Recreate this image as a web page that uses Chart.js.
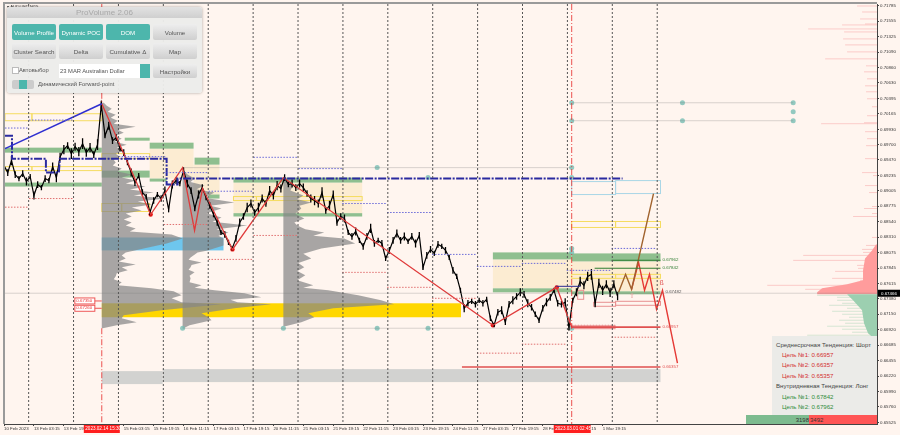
<!DOCTYPE html>
<html>
<head>
<meta charset="utf-8">
<title>AUDUSD ProVolume</title>
<script src="https://cdn.jsdelivr.net/npm/chart.js@4"></script>
<style>
    html, body { margin:0; padding:0; background:#FFF5EF; }
    #wrap { position:relative; width:900px; height:435px; overflow:hidden; font-family:'Liberation Sans', Arial, sans-serif; }
    canvas { position:absolute; left:0; top:0; }
    #pv { position:absolute; left:7px; top:7px; width:195px; height:86px; background:rgba(236,236,234,.96); border-radius:3px; box-shadow:0 0 3px rgba(0,0,0,.35); }
    #pv .title { position:absolute; left:0; top:0; width:100%; height:11px; background:linear-gradient(#e2e2e2,#cfcfcf); color:#a8a8a8; font-size:8px; line-height:12px; text-align:center; border-radius:3px 3px 0 0; }
    #pv .btn { position:absolute; width:44px; height:16px; border-radius:2px; background:linear-gradient(#eeeeee,#cfcfcf); color:#555; font-size:6.2px; line-height:17px; text-align:center; white-space:nowrap; }
    #pv .btn.on { background:#4DB6AC; color:#fff; }
    #pv .lbl { position:absolute; font-size:5.8px; color:#555; white-space:nowrap; }
    #info { position:absolute; left:772px; top:336px; width:105px; height:79px; background:#EBEBE8; font-size:6.1px; }
    #info div { position:absolute; white-space:nowrap; }
    #info .r { left:10px; color:#D32F2F; }
    #info .g { left:10px; color:#2E8B3A; }
    #info .h { left:4px; color:#444; }
    #vol { position:absolute; left:746px; top:415px; width:131px; height:9px; font-size:6px; line-height:10px; }
    #vol .b { position:absolute; left:0; top:0; width:63px; height:9px; background:#7DBB8F; color:#333; text-align:right; }
    #vol .s { position:absolute; left:63px; top:0; width:68px; height:9px; background:#F55; color:#333; padding-left:1px; box-sizing:border-box; }
</style>
</head>
<body>
<div id="wrap">
    <canvas id="chart" width="900" height="435"></canvas>
    <div id="pv">
        <div class="title">ProVolume 2.06</div>
        <div class="btn on" style="left:5px;top:17px">Volume Profile</div>
        <div class="btn on" style="left:52px;top:17px">Dynamic POC</div>
        <div class="btn on" style="left:99px;top:17px">DOM</div>
        <div class="btn" style="left:146px;top:17px">Volume</div>
        <div class="btn" style="left:5px;top:36px">Cluster Search</div>
        <div class="btn" style="left:52px;top:36px">Delta</div>
        <div class="btn" style="left:99px;top:36px">Cumulative Δ</div>
        <div class="btn" style="left:146px;top:36px">Map</div>
        <div style="position:absolute;left:5px;top:60px;width:5px;height:5px;background:#fff;border:1px solid #bbb"></div>
        <div class="lbl" style="left:12px;top:60px">Автовыбор</div>
        <div class="lbl" style="left:52px;top:57px;width:81px;height:14px;background:#fff;line-height:14px;text-indent:1px">23 MAR Australian Dollar</div>
        <div style="position:absolute;left:133px;top:57px;width:10px;height:14px;background:#4DB6AC"></div>
        <div class="btn" style="left:146px;top:57px;height:14px;line-height:15px">Настройки</div>
        <div style="position:absolute;left:5px;top:73px;width:22px;height:9px;background:#ccc;border-radius:2px"></div>
        <div style="position:absolute;left:12px;top:73px;width:8px;height:9px;background:#4DB6AC"></div>
        <div class="lbl" style="left:31px;top:74px">Динамический Forward-point</div>
    </div>
    <div id="info">
        <div class="h" style="top:5px">Среднесрочная Тенденция: Шорт</div>
        <div class="r" style="top:15px">Цель №1: 0.66957</div>
        <div class="r" style="top:25px">Цель №2: 0.66357</div>
        <div class="r" style="top:36px">Цель №3: 0.65357</div>
        <div class="h" style="top:46px">Внутридневная Тенденция: Лонг</div>
        <div class="g" style="top:57px">Цель №1: 0.67842</div>
        <div class="g" style="top:67px">Цель №2: 0.67962</div>
    </div>
    <div id="vol"><div class="b">3198</div><div class="s">3492</div></div>
</div>
<script>
// x values are chart bars (one bar per pixel column), y values are AUDUSD prices

const xTickLabels = ['10 Feb 2023','13 Feb 03:15','13 Feb 19:15','14 Feb 11:15','15 Feb 03:15','15 Feb 19:15','16 Feb 11:15','17 Feb 03:15','17 Feb 19:15','20 Feb 11:15','21 Feb 03:15','21 Feb 19:15','22 Feb 11:15','23 Feb 03:15','23 Feb 19:15','24 Feb 11:15','27 Feb 03:15','27 Feb 19:15','28 Feb 11:15','1 Mar 03:15','1 Mar 19:15'];
const yTickValues = [0.71785,0.71555,0.71325,0.71090,0.70860,0.70630,0.70395,0.70165,0.69930,0.69700,0.69470,0.69235,0.69005,0.68775,0.68540,0.68310,0.68075,0.67845,0.67615,0.67380,0.67150,0.66920,0.66685,0.66455,0.66220,0.65990,0.65760,0.65525];
const lastPrice = 0.67466;

// close every 3.75 bars, and how far the wick of that stretch reaches
const closes = [0.69385,0.6928,0.6946,0.6925,0.6919,0.69265,0.69145,0.6922,0.68935,0.691,0.69055,0.6919,0.6916,0.6937,0.69205,0.6952,0.69625,0.69685,0.69565,0.6967,0.69595,0.69715,0.6958,0.69655,0.6955,0.697,0.703,0.69835,0.69985,0.6976,0.69805,0.6964,0.6958,0.6943,0.6928,0.6913,0.69235,0.6898,0.6892,0.6868,0.6886,0.6895,0.6889,0.6901,0.68725,0.691,0.6916,0.69115,0.6931,0.69115,0.6901,0.6874,0.6895,0.69055,0.68905,0.68785,0.6865,0.6853,0.6838,0.6835,0.6823,0.6814,0.6829,0.6853,0.6862,0.68755,0.68815,0.6868,0.68755,0.6889,0.68815,0.6901,0.68935,0.69085,0.6904,0.69205,0.691,0.69115,0.69055,0.69115,0.69055,0.68965,0.6889,0.6886,0.68815,0.6898,0.6871,0.68785,0.6895,0.6853,0.6862,0.6859,0.6838,0.6832,0.68395,0.6826,0.6817,0.6832,0.6844,0.68215,0.6826,0.68215,0.6799,0.6811,0.6826,0.68365,0.6826,0.6832,0.68245,0.6832,0.68215,0.68335,0.67855,0.68035,0.68125,0.68065,0.682,0.6817,0.6811,0.68005,0.6781,0.6772,0.6751,0.6724,0.67315,0.67345,0.673,0.6736,0.67315,0.67375,0.6709,0.66985,0.6718,0.6721,0.6703,0.673,0.6736,0.6742,0.6748,0.6745,0.67315,0.67255,0.6715,0.6706,0.6724,0.6733,0.67405,0.6751,0.67315,0.673,0.6733,0.66955,0.6736,0.6748,0.67645,0.67585,0.6772,0.6775,0.67315,0.67615,0.6751,0.676,0.6748,0.676,0.6742];
const wickReach = [.0006,.0005,.0007,.0005,.0004,.0005,.0006,.0004,.0006,.0005,.0004,.0005,.0004,.0006,.0007,.0006,.0007,.0005,.0008,.0006,.0007,.0008,.0006,.0007,.0005,.0008,.0006,.0004,.0006,.0005,.0005,.0004,.0005,.0004,.0006,.0005,.0004,.0005,.0004,.0004,.0005,.0004,.0005,.0006,.0004,.0006,.0005,.0004,.0005,.0006,.0005,.0004,.0006,.0005,.0004,.0005,.0004,.0005,.0004,.0005,.0004,.0003,.0005,.0006,.0005,.0007,.0006,.0005,.0007,.0006,.0005,.0007,.0006,.0007,.0006,.0005,.0004,.0006,.0005,.0006,.0006,.0005,.0006,.0007,.0006,.0008,.0005,.0007,.0006,.0005,.0005,.0006,.0004,.0005,.0006,.0004,.0005,.0005,.0007,.0005,.0004,.0005,.0004,.0005,.0005,.0006,.0005,.0006,.0004,.0005,.0006,.0005,.0004,.0005,.0005,.0004,.0005,.0004,.0005,.0004,.0005,.0004,.0004,.0006,.0005,.0004,.0005,.0004,.0005,.0004,.0004,.0003,.0005,.0006,.0004,.0005,.0006,.0005,.0006,.0005,.0006,.0005,.0004,.0004,.0005,.0006,.0005,.0004,.0005,.0005,.0006,.0005,.0004,.0006,.0007,.0006,.0007,.0008,.0006,.0007,.0007,.0006,.0007,.0006,.0006,.0005];
const closeStep = 3.75;

const daySeparators = [24.7,69.7,114.7,159.7,204.7,249.7,294.7,339.7,384.7,429.7,474.7,519.7,564.7,609.7,654.7];
// event markers: bar, price from, price to
const eventLines = [[98,0.71815,0.7176],[98,0.7048,0.70315],[98,0.6694,0.655],[569,0.71815,0.655]];

// zones: bar from, bar to, price top, price bottom
const creamZones = [[146,190,0.6964,0.6919],[190,216,0.694,0.68935],[230,359,0.6913,0.6867],[490,569,0.67975,0.6754],[569,658,0.67945,0.67495]];
const greenZones = [[1,98,0.69655,0.6958],[1,98,0.6913,0.6907],[98,146,0.6931,0.69205],[121,146,0.69805,0.6976],[146,190,0.6973,0.6964],[191,216,0.69505,0.694],[146,163,0.6919,0.69145],[205,216,0.6895,0.6889],[230,359,0.69205,0.6913],[230,359,0.6867,0.6862],[490,569,0.6808,0.67975],[569,658,0.68065,0.67945],[490,569,0.6754,0.6748],[569,658,0.67495,0.6745]];
const goldZones = [[98,458,0.67315,0.67105]];
const blueZones = [[98,220,0.68305,0.6811]];
const grayZones = [[98,159,0.66295,0.661],[159,658,0.66325,0.6613]];
const pinkZones = [[569,613,0.66985,0.66925]];
const yellowBoxes = [[1,28,0.70165,0.7006],[28,98,0.70165,0.7006],[1,28,0.6937,0.6931],[28,98,0.6937,0.6931],[98,146,0.69565,0.6949],[98,118,0.68815,0.68695],[118,146,0.68815,0.68695],[230,253,0.6892,0.6886],[253,359,0.6892,0.6886],[569,613,0.68545,0.68455],[613,658,0.68545,0.68455],[569,613,0.6775,0.6769],[613,658,0.6775,0.6769]];
const skyBoxes = [[569,613,0.69145,0.6895],[613,658,0.6916,0.68965]];
const redBoxes = [[591,613,0.6733,0.6727],[613,658,0.67345,0.67285],[575,581,0.6751,0.67375]];

// session volume profiles
const profile1Start = 98;
const profile1Prices = [0.7033,0.70285,0.7024,0.70195,0.7015,0.70105,0.7006,0.70015,0.6997,0.69925,0.6988,0.69835,0.6979,0.69745,0.697,0.69655,0.6961,0.69565,0.6952,0.69475,0.6943,0.69385,0.6934,0.69295,0.6925,0.69205,0.6916,0.69115,0.6907,0.69025,0.6898,0.68935,0.6889,0.68845,0.688,0.68755,0.6871,0.68665,0.6862,0.68575,0.6853,0.68485,0.6844,0.68395,0.6835,0.6829,0.68215,0.6814,0.6808,0.68035,0.6799,0.67945,0.679,0.67855,0.6781,0.67765,0.6772,0.67675,0.6763,0.67585,0.6754,0.67495,0.67435,0.6739,0.6733,0.673,0.6721,0.67135,0.6709,0.6703,0.66985,0.6694];
const profile1Vols = [2,5,10,6,14,9,16,12,34,16,22,14,20,13,25,15,22,14,18,12,14,11,20,16,30,20,34,24,44,28,52,32,64,36,50,30,40,24,30,22,30,24,34,28,70,81,65,42,24,20,24,17,34,20,26,15,14,12,20,16,50,72,80,70,80,120,60,22,20,35,15,1];
const profile2Start = 179;
const profile2Prices = [0.6931,0.6925,0.6919,0.6914,0.69085,0.6903,0.6898,0.689,0.6883,0.6878,0.6874,0.6867,0.68605,0.6854,0.68485,0.6843,0.6838,0.6833,0.6829,0.68185,0.6811,0.6808,0.68005,0.6797,0.6793,0.6789,0.67855,0.6782,0.6778,0.6773,0.6769,0.6763,0.67585,0.6755,0.6751,0.67465,0.67405,0.6737,0.6733,0.673,0.6724,0.67165,0.67105,0.6706,0.66985,0.6694];
const profile2Vols = [1,5,12,8,22,14,32,22,52,28,39,24,39,30,65,34,46,36,41,41,25,15,8,6,19,9,8,6,12,7,8,7,19,12,32,62,79,48,55,89,52,19,26,29,7,1];
const profile3Start = 280;
const profile3Prices = [0.69205,0.69145,0.69085,0.6901,0.68935,0.6888,0.6883,0.6878,0.6874,0.6866,0.6859,0.6853,0.68485,0.6843,0.6838,0.6833,0.6829,0.68215,0.6814,0.6806,0.6799,0.6792,0.67855,0.678,0.67735,0.6766,0.67585,0.6755,0.6751,0.67435,0.6736,0.673,0.6724,0.67165,0.67105,0.6703,0.6697];
const profile3Vols = [2,6,10,7,20,14,28,16,18,12,21,11,14,22,41,30,61,72,38,20,28,15,21,14,22,14,30,20,45,75,98,111,50,25,31,18,2];

// DOM profile against the price axis
const depthAskPrices = [0.71785,0.71695,0.7159,0.71515,0.715,0.7144,0.71395,0.7129,0.712,0.71095,0.7099,0.70885,0.70795,0.7069,0.70585,0.70495,0.7039,0.7027,0.70135,0.7003,0.70015,0.69895,0.6979,0.69685,0.6949,0.6928,0.69235,0.69085,0.6898,0.6877,0.6874,0.68665,0.6862,0.68305,0.68185,0.68125,0.6808,0.68035,0.6796,0.67885,0.6784,0.67795,0.67765,0.6769,0.6766,0.6763,0.67585,0.67555,0.67525];
const depthAskVols = [20,15,17,12,35,69,33,34,32,30,52,11,13,10,12,11,10,5,10,13,56,12,10,11,12,15,4,12,8,5,13,5,24,5,11,15,14,74,84,20,19,42,12,45,17,20,110,44,72];
const depthAskBodyPrices = [0.682,0.6811,0.6799,0.6781,0.6766,0.676,0.6754,0.6748,0.6745];
const depthAskBodyVols = [1,5,12,14,14,30,55,60,60];
const depthBidPrices = [0.67435,0.67405,0.6736,0.67315,0.67285,0.6724,0.67195,0.6715,0.67105,0.6706,0.67015,0.6697,0.66925,0.6688,0.66835,0.6679,0.6673,0.6667,0.6658];
const depthBidVols = [60,40,40,35,48,30,45,35,28,38,32,50,35,25,70,10,18,10,8];
const depthBidBodyPrices = [0.6745,0.6736,0.6721,0.67015,0.66865,0.6676];
const depthBidBodyVols = [30,24,15,13,9,1];

// trend lines
const impulseUpBars = [1,98];
const impulseUpPrices = [0.6964,0.70315];
const zigzagBars = [98,147,179,191,199,229,280,490,554,569];
const zigzagPrices = [0.70315,0.6865,0.69355,0.6841,0.6904,0.68125,0.69205,0.66985,0.67555,0.66955];
const forecastUpBars = [616,623,629,651];
const forecastUpPrices = [0.6748,0.6775,0.67525,0.68965];
const forecastDownBars = [629,636,642,647,654,660,675];
const forecastDownPrices = [0.67525,0.6793,0.6751,0.6775,0.67225,0.6751,0.66415];
const stepBars = [1,8,8,42,42,55,56,163,163,174,174,620];
const stepPrices = [0.69835,0.69835,0.6949,0.6949,0.6928,0.6928,0.6949,0.6949,0.691,0.691,0.6919,0.6919];

// horizontal levels: bar from, bar to, price
const blueDotted = [[1,25,0.6995],[25,70,0.7007],[115,163,0.6952],[160,205,0.6928],[205,250,0.69],[250,295,0.6951],[295,339,0.6934],[339,384,0.68815],[384,429,0.6868],[429,474,0.6805],[474,519,0.6787],[519,564,0.67915],[564,609,0.6781],[609,654,0.6814]];
const redDotted = [[1,25,0.6876],[25,70,0.6889],[160,205,0.6850],[205,250,0.67975],[250,295,0.68335],[339,384,0.6778],[384,429,0.67555],[429,474,0.6739],[474,519,0.66565],[519,564,0.667],[609,654,0.66805]];
const paleLevels = [[179,569,0.6694],[181,569,0.69355],[569,791,0.7033],[569,791,0.7006],[1,875,lastPrice]];
const targetLongLevels = [[609,658,0.67962],[592,658,0.67842]];
const targetShortLevels = [[569,658,0.66957],[459,658,0.66357]];
const stopDotted = [[569,613,0.66985]];
const coreBars = [553,578];
const corePrices = [0.6757,0.6757];

const dotBars = [147,229,490,554];
const dotPrices = [0.6865,0.68125,0.66985,0.67555];
const markerBars = [179,280,374,425,569,374,425,569,569,569,569,569,569,680,680,791,791,791];
const markerPrices = [0.6694,0.6694,0.6694,0.6694,0.6694,0.69355,0.69205,0.69355,0.69205,0.6814,0.6808,0.7033,0.7006,0.7033,0.7006,0.7033,0.70195,0.7006];

const PRICE_MIN = 0.655, PRICE_MAX = 0.71815;
const BAR_MAX = 875;

function pts(bars, values){ return bars.map((b,i)=>({ x:b, y:values[i] })); }

function levels(list){
    const out = [];
    list.forEach(l=>{ out.push({x:l[0],y:l[2]},{x:l[1],y:l[2]},{x:l[1],y:null}); });
    return out;
}

function verticals(bars){
    const out = [];
    bars.forEach(b=>{ out.push({x:b,y:PRICE_MAX},{x:b,y:PRICE_MIN},{x:b,y:null}); });
    return out;
}

function eventSegments(list){
    const out = [];
    list.forEach(l=>{ out.push({x:l[0],y:l[1]},{x:l[0],y:l[2]},{x:l[0],y:null}); });
    return out;
}

function wicks(){
    const out = [];
    closes.forEach((c,i)=>{
        const b = i*closeStep;
        out.push({x:b,y:c+wickReach[i]},{x:b,y:c-wickReach[i]},{x:b,y:null});
    });
    return out;
}

function lineSet(data, color, width, dash){
    return { type:'line', data, borderColor:color, borderWidth:width, borderDash:dash||[], pointRadius:0, tension:0, spanGaps:false, fill:false };
}

function dotSet(data, color, radius){
    return { type:'line', data, showLine:false, pointRadius:radius, pointBackgroundColor:color, pointBorderWidth:0 };
}

// filled rectangles and volume profiles go under the datasets
const underlay = {
    id:'underlay',
    beforeDatasetsDraw(chart){
        const { ctx, scales:{ x, y } } = chart;
        const X = v => x.getPixelForValue(v);
        const Y = v => y.getPixelForValue(v);
        const W = v => X(v) - X(0);

        function fillZones(list, color){
            ctx.fillStyle = color;
            list.forEach(z=> ctx.fillRect(X(z[0]), Y(z[2]), X(z[1])-X(z[0]), Y(z[3])-Y(z[2])));
        }
        function strokeBoxes(list, color){
            ctx.strokeStyle = color;
            ctx.lineWidth = 1;
            list.forEach(z=> ctx.strokeRect(X(z[0]), Y(z[2]), X(z[1])-X(z[0]), Y(z[3])-Y(z[2])));
        }
        function profile(start, prices, vols, color){
            ctx.fillStyle = color;
            ctx.beginPath();
            ctx.moveTo(X(start), Y(prices[0]));
            prices.forEach((p,i)=> ctx.lineTo(X(start)+W(vols[i]), Y(p)));
            ctx.lineTo(X(start), Y(prices[prices.length-1]));
            ctx.closePath();
            ctx.fill();
        }
        function depthBody(prices, vols, color){
            ctx.fillStyle = color;
            ctx.beginPath();
            ctx.moveTo(x.right, Y(prices[0]));
            prices.forEach((p,i)=> ctx.lineTo(x.right-W(vols[i]), Y(p)));
            ctx.lineTo(x.right, Y(prices[prices.length-1]));
            ctx.closePath();
            ctx.fill();
        }
        function depthLines(prices, vols, color){
            ctx.strokeStyle = color;
            ctx.lineWidth = 1;
            prices.forEach((p,i)=>{
                ctx.beginPath();
                ctx.moveTo(x.right, Y(p));
                ctx.lineTo(x.right-W(vols[i]), Y(p));
                ctx.stroke();
            });
        }

        ctx.save();
        fillZones(creamZones, '#FCECD2');
        fillZones(grayZones, '#D2D2D0');
        fillZones(goldZones, '#FFD700');
        fillZones(blueZones, '#6EC6EE');
        fillZones(pinkZones, '#EE9A9A');
        fillZones(greenZones, '#8FBF8F');
        strokeBoxes(yellowBoxes, '#F5DC60');
        strokeBoxes(skyBoxes, '#A9D6E6');
        strokeBoxes(redBoxes, '#E89090');
        const gray = 'rgba(134,134,134,.72)';
        profile(profile1Start, profile1Prices, profile1Vols, gray);
        profile(profile2Start, profile2Prices, profile2Vols, gray);
        profile(profile3Start, profile3Prices, profile3Vols, gray);
        depthLines(depthAskPrices, depthAskVols, 'rgba(248,170,170,.55)');
        depthLines(depthBidPrices, depthBidVols, 'rgba(150,205,170,.4)');
        depthBody(depthAskBodyPrices, depthAskBodyVols, '#FF9C9C');
        depthBody(depthBidBodyPrices, depthBidBodyVols, '#9CCFB0');
        ctx.restore();
    }
};

// text that sits on the chart and the price tags over the axes
const overlay = {
    id:'overlay',
    afterDraw(chart){
        const { ctx, chartArea:a, scales:{ x, y } } = chart;
        const X = v => x.getPixelForValue(v);
        const Y = v => y.getPixelForValue(v);
        ctx.save();

        // terminal frame
        ctx.strokeStyle = '#9a9a9a';
        ctx.lineWidth = 2;
        ctx.beginPath();
        ctx.moveTo(a.left, a.bottom);
        ctx.lineTo(a.left, a.top-1);
        ctx.lineTo(a.right, a.top-1);
        ctx.stroke();

        ctx.textBaseline = 'middle';
        ctx.font = '4.4px "Liberation Sans"';
        ctx.fillStyle = '#333';
        ctx.textAlign = 'left';
        ctx.fillText('▾ AUDUSD,M15', a.left+3, a.top+3);

        // level labels
        ctx.fillStyle = '#2E7D32';
        ctx.fillText('0.67962', X(660), Y(0.67962));
        ctx.fillText('0.67842', X(660), Y(0.67842));
        ctx.fillStyle = '#E05050';
        ctx.fillText('0.66957', X(660), Y(0.66957));
        ctx.fillText('0.66357', X(660), Y(0.66357));
        ctx.fillStyle = '#555';
        ctx.fillText('0.67482', X(663), Y(0.67482));
        ctx.font = '7px "Liberation Sans"';
        ctx.fillStyle = '#E05050';
        ctx.fillText('ß', X(657), Y(0.6762));
        ctx.fillStyle = '#E8A0A0';
        ctx.fillText('⇧', X(626), Y(0.6742));

        // profile price flags
        [['0.67350',0.6735],['0.67260',0.6724]].forEach(f=>{
            const py = Y(f[1]);
            ctx.fillStyle = '#fff';
            ctx.strokeStyle = '#EE5555';
            ctx.lineWidth = 1;
            ctx.fillRect(X(71), py-3, 20, 6);
            ctx.strokeRect(X(71), py-3, 20, 6);
            ctx.beginPath();
            ctx.moveTo(X(91), py);
            ctx.lineTo(X(98), py);
            ctx.stroke();
            ctx.fillStyle = '#EE3333';
            ctx.font = '4.4px "Liberation Sans"';
            ctx.fillText(f[0], X(72.5), py);
        });

        // event time tags on the time axis
        [[80,36,'2023.02.14 15:30'],[551,37,'2023.03.01 02:45']].forEach(t=>{
            ctx.fillStyle = '#FF1E1E';
            ctx.fillRect(X(t[0]), a.bottom+1, t[1], 8);
            ctx.fillStyle = '#fff';
            ctx.font = '4.6px "Liberation Sans"';
            ctx.fillText(t[2], X(t[0])+1.5, a.bottom+5);
        });

        // last price tag
        ctx.fillStyle = '#000';
        ctx.fillRect(a.right+1, Y(lastPrice)-3.5, 22, 7);
        ctx.fillStyle = '#fff';
        ctx.font = '4.4px "Liberation Sans"';
        ctx.fillText(lastPrice.toFixed(5), a.right+4, Y(lastPrice)+.3);
        ctx.restore();
    }
};

new Chart(document.getElementById('chart'), {
    type:'line',
    plugins:[underlay, overlay],
    data:{
        datasets:[
            lineSet(verticals(daySeparators), '#555', 1, [2,2]),
            lineSet(levels(paleLevels), 'rgba(120,120,120,.28)', 1),
            lineSet(levels(blueDotted), '#6A6AD8', 1, [1.5,1.5]),
            lineSet(levels(redDotted), '#E07070', 1, [1.5,1.5]),
            lineSet(eventSegments(eventLines), 'rgba(230,40,40,.8)', 1, [6,2,1,2]),
            lineSet(levels(stopDotted), '#E89090', 1, [1.5,1.5]),
            lineSet(levels(targetLongLevels), '#2E7D32', 1),
            lineSet(levels(targetShortLevels), '#E05050', 1.6),
            lineSet(pts(forecastUpBars, forecastUpPrices), '#A0622D', 1.4),
            lineSet(pts(forecastDownBars, forecastDownPrices), '#E53935', 1.4),
            lineSet(pts(impulseUpBars, impulseUpPrices), '#2F2FD0', 1.5),
            lineSet(pts(stepBars, stepPrices), '#2A2AA0', 2, [8,1.5,2,1.5]),
            lineSet(pts(zigzagBars, zigzagPrices), '#E03A3A', 1.3),
            lineSet(pts(coreBars, corePrices), '#2A2A90', 1),
            lineSet(closes.map((c,i)=>({ x:i*closeStep, y:c })), '#000', 1.2),
            lineSet(wicks(), '#000', 1.3),
            dotSet(pts(markerBars, markerPrices), 'rgba(120,190,180,.8)', 2.5),
            dotSet(pts(dotBars, dotPrices), '#E81010', 2.2)
        ]
    },
    options:{
        responsive:false,
        animation:false,
        layout:{ padding:{ left:2, top:3, right:0, bottom:0 } },
        plugins:{ legend:{ display:false }, tooltip:{ enabled:false } },
        scales:{
            x:{
                type:'linear',
                min:0,
                max:BAR_MAX,
                afterBuildTicks(scale){ scale.ticks = xTickLabels.map((_,i)=>({ value:i*30 })); },
                afterFit(scale){ scale.height = 11; },
                grid:{ drawOnChartArea:false, tickLength:2, tickColor:'#444' },
                border:{ color:'#444', width:1 },
                ticks:{ autoSkip:false, maxRotation:0, align:'start', padding:0, color:'#333', font:{ size:4.4, family:'Liberation Sans' }, callback(v){ return xTickLabels[Math.round(v/30)] || ''; } }
            },
            y:{
                position:'right',
                min:PRICE_MIN,
                max:PRICE_MAX,
                afterBuildTicks(scale){ scale.ticks = yTickValues.map(v=>({ value:v })); },
                afterFit(scale){ scale.width = 23; },
                grid:{ drawOnChartArea:false, tickLength:2, tickColor:'#444' },
                border:{ color:'#444', width:1 },
                ticks:{ autoSkip:false, padding:1, color:'#333', font:{ size:4.4, family:'Liberation Sans' }, callback(v){ return v.toFixed(5); } }
            }
        }
    }
});
</script>
</body>
</html>
